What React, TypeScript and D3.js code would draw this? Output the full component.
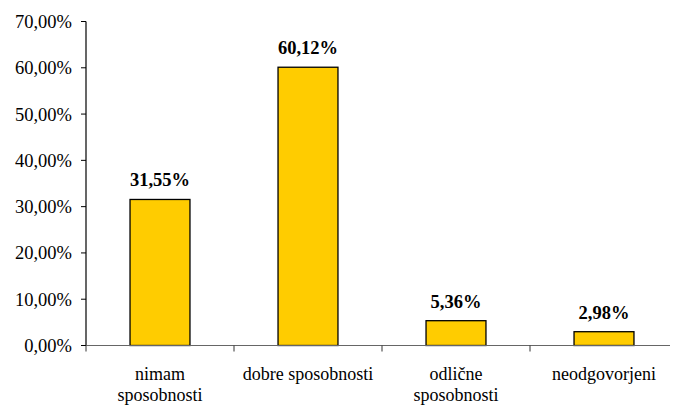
import React from "react";
import * as d3 from "d3";

const categories: string[][] = [["nimam", "sposobnosti"], ["dobre sposobnosti"], ["odlične", "sposobnosti"], ["neodgovorjeni"]];
const values: number[] = [31.55, 60.12, 5.36, 2.98];
const yTicks: number[] = [0, 10, 20, 30, 40, 50, 60, 70];

const W = 678, H = 416;
const margin = { left: 86, right: 0, top: 21.5, bottom: 70.5 };

const fmt = (v: number, d: number) => v.toFixed(d).replace(".", ",") + "%";

export default function App() {
  const x = d3.scaleBand<number>().domain(d3.range(values.length)).range([margin.left, W - margin.right]).paddingInner(0).paddingOuter(0);
  const y = d3.scaleLinear().domain([0, 70]).range([H - margin.bottom, margin.top]);
  const bw = x.bandwidth() * 0.405;
  const y0 = y(0);
  return (
    <svg width={W} height={H} style={{ display: "block", margin: "-8px", fontFamily: "Liberation Serif" }}>
      {yTicks.map((t) => (
        <g key={t}>
          <line x1={margin.left - 5} x2={margin.left} y1={y(t)} y2={y(t)} stroke="#000" strokeWidth={1} />
          <text x={margin.left - 14} y={y(t) + 6.5} textAnchor="end" style={{ fontFamily: "Liberation Serif" }} fontSize={18.5}>{fmt(t, 2)}</text>
        </g>
      ))}
      {values.map((v, i) => {
        const cx = (x(i) as number) + x.bandwidth() / 2;
        return (
          <g key={i}>
            <rect x={cx - bw / 2} y={y(v)} width={bw} height={y0 - y(v)} fill="#FFCC00" stroke="#000" strokeWidth={1.3} />
            <text x={cx} y={y(v) - 13} textAnchor="middle" style={{ fontFamily: "Liberation Serif" }} fontWeight="bold" fontSize={18.5}>{fmt(v, 2)}</text>
            {categories[i].map((line, j) => (
              <text key={j} x={cx} y={380 + j * 21} textAnchor="middle" style={{ fontFamily: "Liberation Serif" }} fontSize={18}>{line}</text>
            ))}
          </g>
        );
      })}
      <line x1={margin.left} x2={margin.left} y1={margin.top} y2={y0} stroke="#000" strokeWidth={1.2} />
      <line x1={margin.left} x2={W} y1={y0} y2={y0} stroke="#666" strokeWidth={1.2} />
      {d3.range(values.length + 1).map((i) => {
        const xx = i < values.length ? (x(i) as number) : W - margin.right;
        return <line key={i} x1={xx} x2={xx} y1={y0} y2={y0 + 6} stroke="#333" strokeWidth={1} />;
      })}
    </svg>
  );
}
